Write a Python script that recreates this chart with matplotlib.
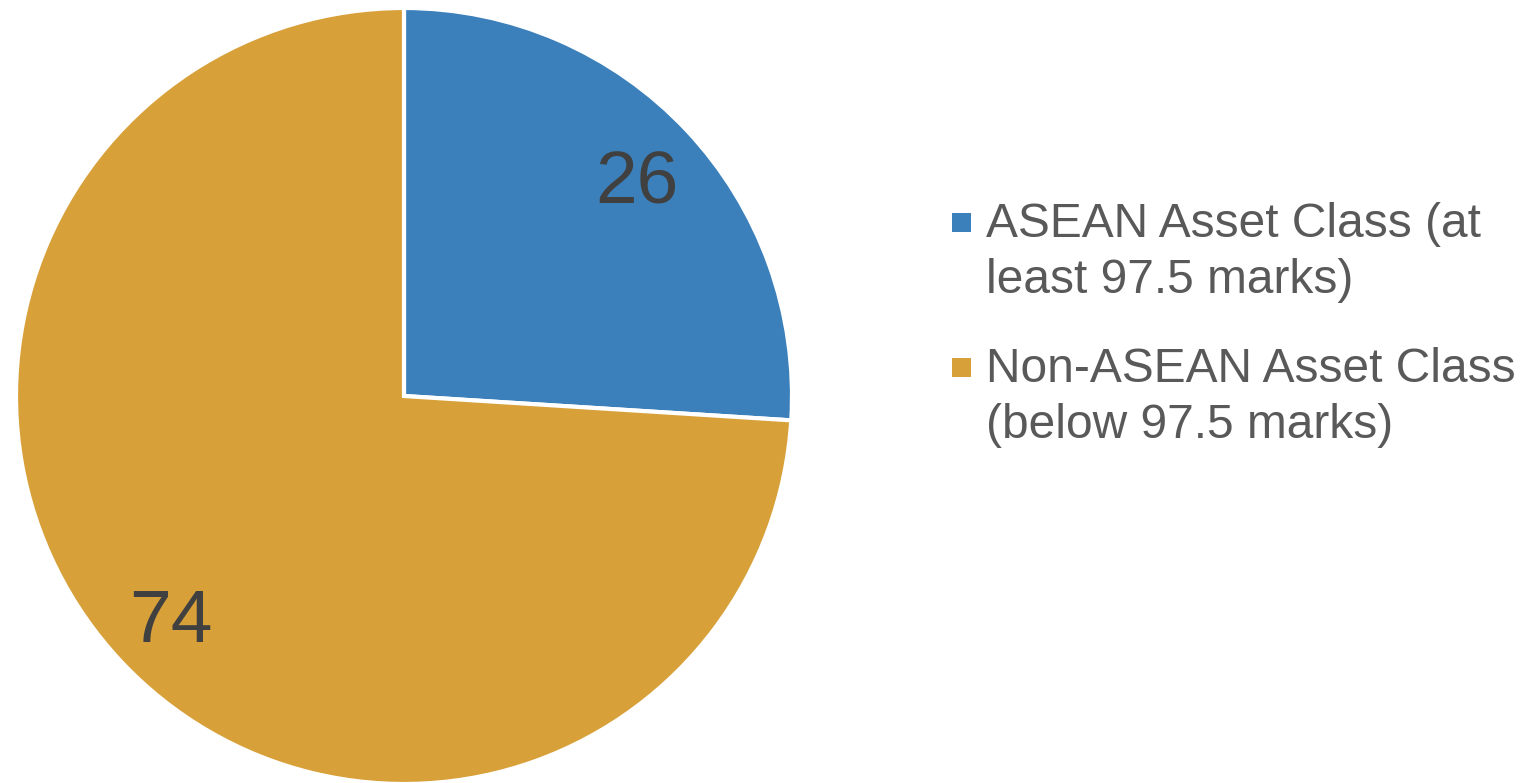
import matplotlib
matplotlib.use("Agg")
import matplotlib.pyplot as plt
from matplotlib.patches import Rectangle

plt.rcParams['font.family'] = ['Liberation Sans', 'DejaVu Sans']

categories = ["ASEAN Asset Class (at\nleast 97.5 marks)",
              "Non-ASEAN Asset Class\n(below 97.5 marks)"]
values = [26, 74]
colors = ["#3B80BA", "#D8A038"]

W, H = 1530, 783
fig = plt.figure(figsize=(W / 100, H / 100), dpi=100)

cx, cy, r = 404, 396, 388
ax = fig.add_axes([(cx - r) / W, (H - cy - r) / H, 2 * r / W, 2 * r / H])

wedges, _, autotexts = ax.pie(
    values, colors=colors, startangle=90, counterclock=False,
    autopct=lambda p: f"{p:.0f}", pctdistance=0.825,
    wedgeprops=dict(edgecolor="white", linewidth=3),
    textprops=dict(color="#404040", fontsize=54),
)
for t in autotexts:
    t.set_va("center_baseline")
    t.set_ha("center")
ax.set_xlim(-1, 1)
ax.set_ylim(-1, 1)
ax.set_aspect("equal")
ax.axis("off")

# Legend: square key aligned with the first line of each wrapped label
key_x, key_size = 952, 19
text_x = 986
first_baselines = [237, 382]
line_step = 56
for label, color, base in zip(categories, colors, first_baselines):
    fig.add_artist(Rectangle((key_x / W, 1 - (base - 5) / H),
                             key_size / W, key_size / H,
                             transform=fig.transFigure,
                             facecolor=color, edgecolor="none"))
    for i, line in enumerate(label.split("\n")):
        fig.text(text_x / W, 1 - (base + i * line_step) / H, line,
                 fontsize=34.5, color="#595959", ha="left", va="baseline")

fig.savefig("out.png", dpi=100)
